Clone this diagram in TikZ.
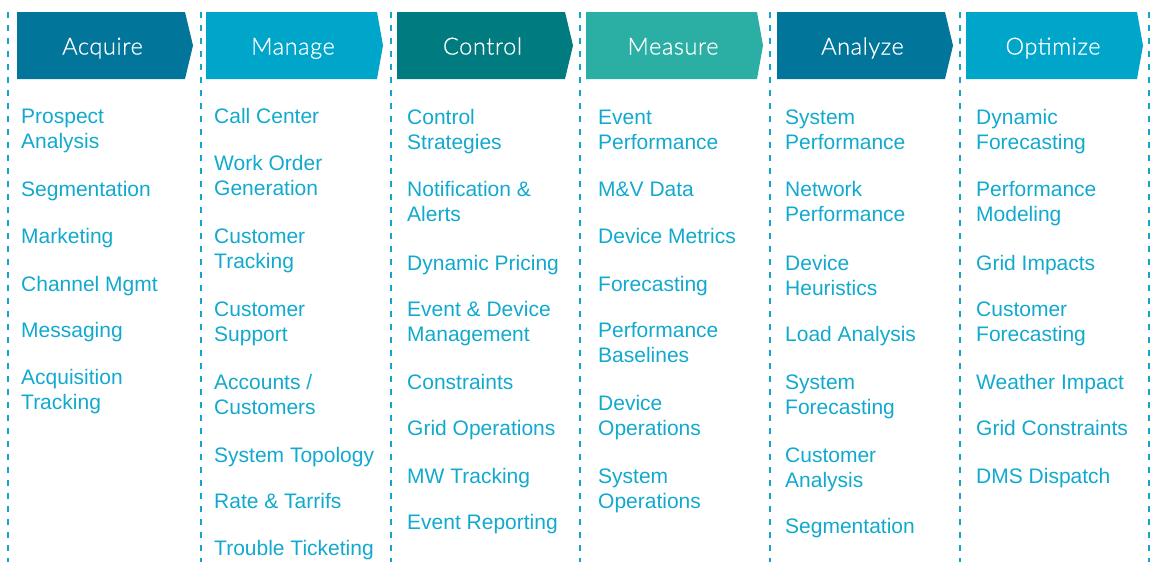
\documentclass[tikz,border=0pt]{standalone}
\usepackage{fontspec}
\setmainfont{Liberation Sans}
\IfFontExistsTF{Lato Light}
  {\newfontfamily\hdrfont{Lato Light}[LetterSpace=2.5,FakeBold=0.6]}
  {\newfontfamily\hdrfont{Lato}[LetterSpace=2]}
\newfontfamily\itemfont{Liberation Sans}

\definecolor{deepblue}{HTML}{02769A}
\definecolor{skyblue}{HTML}{00A6CA}
\definecolor{deepteal}{HTML}{007C80}
\definecolor{seateal}{HTML}{2BAFA5}
\definecolor{itemcyan}{HTML}{12A9CE}
\definecolor{rulecyan}{HTML}{14A5C8}

% list entry: the strut puts the node top 16pt above the first baseline
\newcommand\fstrut{\rule{0pt}{16pt}}
\newcommand\entry[3]{\node[listitem] (#1) at #2 {\fstrut#3};}

\begin{document}
\begin{tikzpicture}[x=1pt,y=-1pt,
  colrule/.style={draw=rulecyan,line width=2pt,dash pattern=on 6pt off 7pt},
  hdrtext/.style={anchor=base,inner sep=0,text=white,font=\hdrfont\fontsize{23.5}{28}\selectfont},
  listitem/.style={anchor=north west,inner sep=0,align=left,text=itemcyan,
    font=\itemfont\fontsize{21}{25}\selectfont}]

\useasboundingbox (0,0) rectangle (1150,562);

% column separators
\foreach \x/\n in {8/r0,201/r1,391/r2,580/r3,770/r4,960/r5,1149/r6}{
  \coordinate (\n top) at (\x,12);
  \coordinate (\n bot) at (\x,562);
  \draw[colrule] (\n top) -- (\n bot);
}

% header chevrons: left edge, end of flat top, tip, fill colour, title
\foreach \l/\r/\t/\c/\name/\txt in {
  17/185/193/deepblue/acquire/Acquire,
  206/377/383/skyblue/manage/Manage,
  397/565/573/deepteal/control/Control,
  586/757/763/seateal/measure/Measure,
  777/945/953/deepblue/analyze/Analyze,
  966/1137/1143/skyblue/optimize/Optimize}{
  \fill[\c] (\l,12) -- (\r,12) -- (\t,45.5) -- (\r,79) -- (\l,79) -- cycle;
  \node[hdrtext] (\name) at ({(\l+\r)/2+1.5},54.5) {\txt};
}

% Acquire
\entry{a1}{(21,107)}{Prospect\\Analysis}
\entry{a2}{(21,180)}{Segmentation}
\entry{a3}{(21,227)}{Marketing}
\entry{a4}{(21,275)}{Channel Mgmt}
\entry{a5}{(21,321)}{Messaging}
\entry{a6}{(21,368)}{Acquisition\\Tracking}

% Manage
\entry{m1}{(214,107)}{Call Center}
\entry{m2}{(214,154)}{Work Order\\Generation}
\entry{m3}{(214,227)}{Customer\\Tracking}
\entry{m4}{(214,300)}{Customer\\Support}
\entry{m5}{(214,373)}{Accounts /\\Customers}
\entry{m6}{(214,446)}{System Topology}
\entry{m7}{(214,492)}{Rate \& Tarrifs}
\entry{m8}{(214,539)}{Trouble Ticketing}

% Control
\entry{c1}{(407,108)}{Control\\Strategies}
\entry{c2}{(407,180)}{Notification \&\\Alerts}
\entry{c3}{(407,254)}{Dynamic Pricing}
\entry{c4}{(407,300)}{Event \& Device\\Management}
\entry{c5}{(407,373)}{Constraints}
\entry{c6}{(407,419)}{Grid Operations}
\entry{c7}{(407,467)}{MW Tracking}
\entry{c8}{(407,513)}{Event Reporting}

% Measure
\entry{s1}{(598,108)}{Event\\Performance}
\entry{s2}{(598,180)}{M\&V Data}
\entry{s3}{(598,227)}{Device Metrics}
\entry{s4}{(598,275)}{Forecasting}
\entry{s5}{(598,321)}{Performance\\Baselines}
\entry{s6}{(598,394)}{Device\\Operations}
\entry{s7}{(598,467)}{System\\Operations}

% Analyze
\entry{n1}{(785,108)}{System\\Performance}
\entry{n2}{(785,180)}{Network\\Performance}
\entry{n3}{(785,254)}{Device\\Heuristics}
\entry{n4}{(785,325)}{Load Analysis}
\entry{n5}{(785,373)}{System\\Forecasting}
\entry{n6}{(785,446)}{Customer\\Analysis}
\entry{n7}{(785,517)}{Segmentation}

% Optimize
\entry{o1}{(976,108)}{Dynamic\\Forecasting}
\entry{o2}{(976,180)}{Performance\\Modeling}
\entry{o3}{(976,254)}{Grid Impacts}
\entry{o4}{(976,300)}{Customer\\Forecasting}
\entry{o5}{(976,373)}{Weather Impact}
\entry{o6}{(976,419)}{Grid Constraints}
\entry{o7}{(976,467)}{DMS Dispatch}

\end{tikzpicture}
\end{document}
